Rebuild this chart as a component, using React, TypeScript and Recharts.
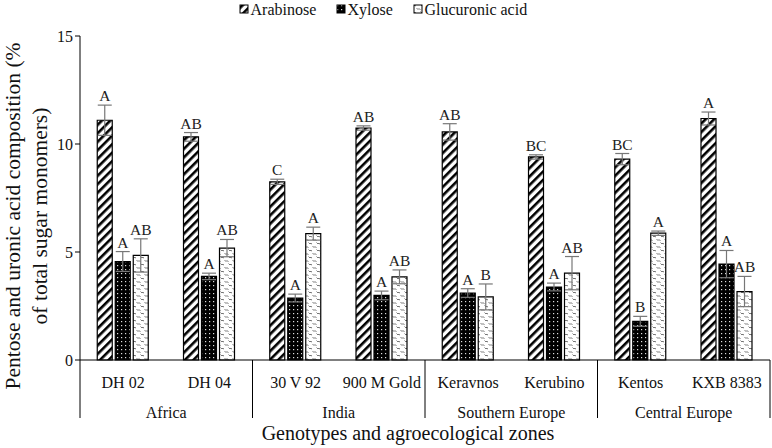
import { BarChart, Bar, XAxis, YAxis, ErrorBar, LabelList } from "recharts";

const categories = ["DH 02", "DH 04", "30 V 92", "900 M Gold", "Keravnos", "Kerubino", "Kentos", "KXB 8383"];
const zones = ["Africa", "India", "Southern Europe", "Central Europe"];

const arabinose = [11.1, 10.33, 8.25, 10.74, 10.56, 9.4, 9.3, 11.18];
const arabinoseErr = [0.7, 0.2, 0.12, 0.1, 0.38, 0.1, 0.26, 0.3];
const arabinoseLetters = ["A", "AB", "C", "AB", "AB", "BC", "BC", "A"];

const xylose = [4.56, 3.87, 2.87, 2.99, 3.1, 3.38, 1.79, 4.44];
const xyloseErr = [0.46, 0.15, 0.18, 0.2, 0.2, 0.18, 0.23, 0.63];
const xyloseLetters = ["A", "A", "A", "A", "A", "A", "B", "A"];

const glucuronic = [4.84, 5.18, 5.85, 3.85, 2.92, 4.02, 5.87, 3.17];
const glucuronicErr = [0.77, 0.4, 0.3, 0.32, 0.6, 0.77, 0.1, 0.7];
const glucuronicLetters = ["AB", "AB", "A", "AB", "B", "AB", "A", "AB"];

const yTicks = [0, 5, 10, 15];

const data = categories.map((name, i) => ({
  name,
  arabinose: arabinose[i],
  arabinoseErr: arabinoseErr[i],
  xylose: xylose[i],
  xyloseErr: xyloseErr[i],
  glucuronic: glucuronic[i],
  glucuronicErr: glucuronicErr[i],
}));

const W = 772;
const H = 448;
const LEFT = 80;
const RIGHT = 2;
const TOP = 36;
const XAXIS_H = 88;
const BAND = (W - LEFT - RIGHT) / categories.length;
const PX_PER_UNIT = (H - TOP - XAXIS_H) / 15;
const FONT = "Liberation Serif";
const serif = { fontFamily: FONT };

function Patterns({ p }: { p: string }) {
  return (
    <defs>
      <pattern id={p + "arab"} width="6" height="6" patternUnits="userSpaceOnUse" patternTransform="rotate(45)">
        <rect width="6" height="6" fill="#fff" />
        <rect width="2.6" height="6" fill="#000" />
      </pattern>
      <pattern id={p + "xyl"} width="4" height="4" patternUnits="userSpaceOnUse">
        <rect width="4" height="4" fill="#000" />
        <rect x="1" y="1" width="1.2" height="1.2" fill="#ddd" />
      </pattern>
      <pattern id={p + "gluc"} width="8" height="7" patternUnits="userSpaceOnUse">
        <rect width="8" height="7" fill="#fff" />
        <path d="M0.5 1 L2 2.5 L3 1.5 L4.5 3" stroke="#555" strokeWidth="0.8" fill="none" />
        <path d="M4.5 4.5 L6 6 L7 5 L8 6.5" stroke="#555" strokeWidth="0.8" fill="none" />
      </pattern>
    </defs>
  );
}

function letterRenderer(errs: number[], letters: string[]) {
  return (props: any) => {
    const { x, y, width, index } = props;
    const top = Number(y) - errs[index] * PX_PER_UNIT - 4;
    return (
      <text x={Number(x) + Number(width) / 2} y={top} textAnchor="middle" fontSize={15.5} style={serif} fill="#222">
        {letters[index]}
      </text>
    );
  };
}

function CategoryTick(props: any) {
  const { x, y, payload, index } = props;
  const zoneIdx = Math.floor(index / 2);
  return (
    <g>
      <text x={x} y={y + 28} textAnchor="middle" fontSize={16} style={serif} fill="#111">
        {payload.value}
      </text>
      {index % 2 === 0 && (
        <>
          <line x1={x - BAND / 2} x2={x - BAND / 2} y1={y} y2={y + 58} stroke="#000" strokeWidth={1} />
          <text x={x + BAND / 2} y={y + 58} textAnchor="middle" fontSize={16} style={serif} fill="#111">
            {zones[zoneIdx]}
          </text>
        </>
      )}
      {index === categories.length - 1 && (
        <line x1={x + BAND / 2} x2={x + BAND / 2} y1={y} y2={y + 58} stroke="#000" strokeWidth={1} />
      )}
    </g>
  );
}

function YLabel() {
  const cy = 216;
  const st = { fontFamily: FONT, fontSize: 21.5 };
  return (
    <g fill="#111">
      <text x={13} y={cy} textAnchor="middle" dominantBaseline="central" transform={`rotate(-90 13 ${cy})`} style={st}>
        Pentose and uronic acid composition (%
      </text>
      <text x={40} y={cy} textAnchor="middle" dominantBaseline="central" transform={`rotate(-90 40 ${cy})`} style={st}>
        of total sugar monomers)
      </text>
    </g>
  );
}

function XTitle() {
  return (
    <text x={408} y={440} textAnchor="middle" fontSize={20} style={serif} fill="#111">
      Genotypes and agroecological zones
    </text>
  );
}

const legendItems = [
  { key: "arab", label: "Arabinose", x: 240 },
  { key: "xyl", label: "Xylose", x: 337 },
  { key: "gluc", label: "Glucuronic acid", x: 414 },
];

export default function App() {
  return (
    <div style={{ position: "absolute", left: 0, top: 0, width: W, height: H, background: "#fff", fontFamily: FONT }}>
      <BarChart
        width={W}
        height={H}
        data={data}
        margin={{ top: TOP, right: RIGHT, bottom: 0, left: 0 }}
        barCategoryGap="20%"
        barGap={3}
        style={serif}
      >
        <Patterns p="c" />
        <YAxis
          domain={[0, 15]}
          ticks={yTicks}
          width={LEFT}
          tickSize={5}
          axisLine={{ stroke: "#000" }}
          tickLine={{ stroke: "#000" }}
          tick={{ fill: "#111", fontSize: 16, style: serif }}
          label={{ content: () => <YLabel /> }}
        />
        <XAxis
          dataKey="name"
          height={XAXIS_H}
          tickSize={0}
          tickMargin={0}
          tickLine={false}
          axisLine={{ stroke: "#000" }}
          interval={0}
          tick={<CategoryTick />}
          label={{ content: () => <XTitle /> }}
        />
        <Bar dataKey="arabinose" fill="url(#carab)" stroke="#000" strokeWidth={1.2} isAnimationActive={false}>
          <ErrorBar dataKey="arabinoseErr" width={7} stroke="#777" strokeWidth={1.2} direction="y" />
          <LabelList dataKey="arabinose" content={letterRenderer(arabinoseErr, arabinoseLetters)} />
        </Bar>
        <Bar dataKey="xylose" fill="url(#cxyl)" stroke="#000" strokeWidth={1.2} isAnimationActive={false}>
          <ErrorBar dataKey="xyloseErr" width={7} stroke="#777" strokeWidth={1.2} direction="y" />
          <LabelList dataKey="xylose" content={letterRenderer(xyloseErr, xyloseLetters)} />
        </Bar>
        <Bar dataKey="glucuronic" fill="url(#cgluc)" stroke="#000" strokeWidth={1.2} isAnimationActive={false}>
          <ErrorBar dataKey="glucuronicErr" width={7} stroke="#777" strokeWidth={1.2} direction="y" />
          <LabelList dataKey="glucuronic" content={letterRenderer(glucuronicErr, glucuronicLetters)} />
        </Bar>
      </BarChart>
      <svg width={W} height={26} style={{ position: "absolute", left: 0, top: 0 }}>
        <Patterns p="l" />
        {legendItems.map((it) => (
          <g key={it.key}>
            <rect x={it.x} y={5} width={8} height={8} fill={`url(#l${it.key})`} stroke="#000" strokeWidth={1} />
            <text x={it.x + 10.5} y={15} fontSize={16} style={serif} fill="#111">
              {it.label}
            </text>
          </g>
        ))}
      </svg>
    </div>
  );
}
